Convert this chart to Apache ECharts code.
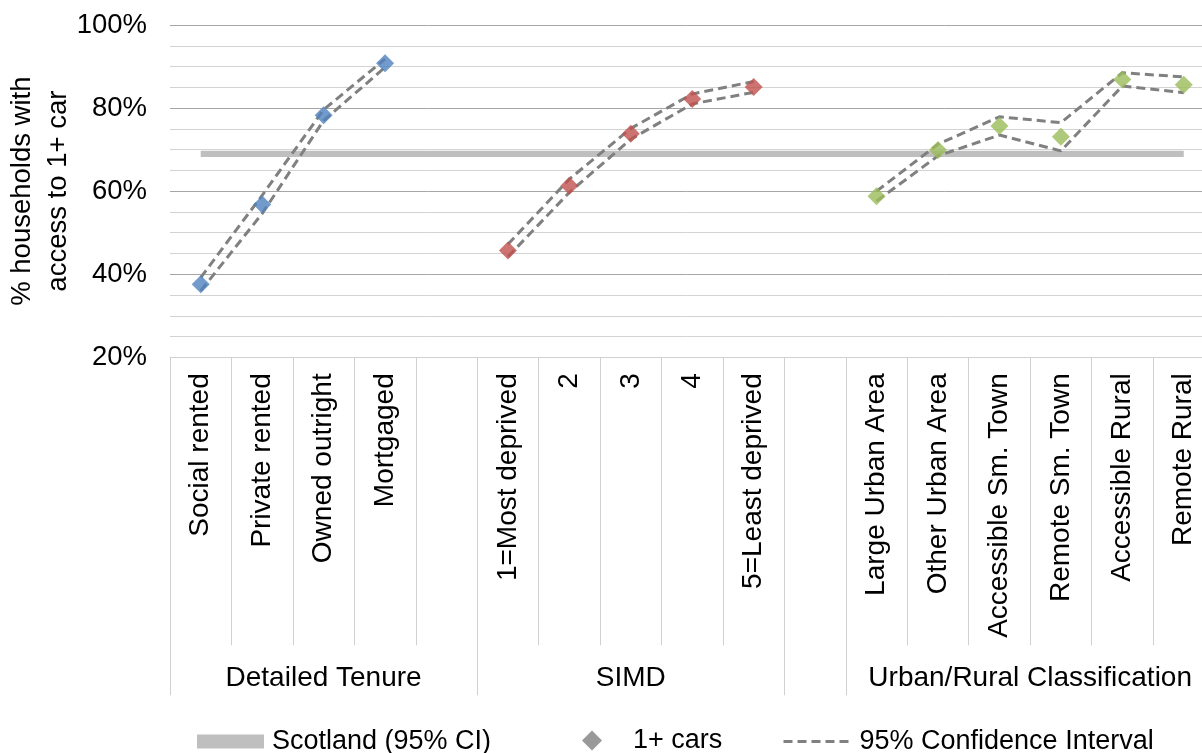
<!DOCTYPE html>
<html>
<head>
<meta charset="utf-8">
<title>Households with access to 1+ car</title>
<script src="https://cdn.jsdelivr.net/npm/echarts@6/dist/echarts.min.js"></script>
<style>
  html, body { margin: 0; padding: 0; background: #ffffff; }
  #chart { width: 1202px; height: 753px; }
</style>
</head>
<body>
<div id="chart"></div>
<script>
// ---- Categories by group ----
const tenureCats = ['Social rented', 'Private rented', 'Owned outright', 'Mortgaged'];
const simdCats = ['1=Most deprived', '2', '3', '4', '5=Least deprived'];
const urbanCats = ['Large Urban Area', 'Other Urban Area', 'Accessible Sm. Town', 'Remote Sm. Town', 'Accessible Rural', 'Remote Rural'];

// ---- % of households with access to 1+ car ----
const tenureCars = [37.6, 56.8, 78.3, 90.8];
const simdCars = [45.7, 61.3, 73.8, 82.2, 85.1];
const urbanCars = [58.8, 69.9, 75.7, 73.1, 86.9, 85.6];

// ---- 95% confidence interval bounds ----
const tenureUpper = [39.2, 59.0, 79.6, 91.8];
const tenureLower = [36.0, 54.6, 77.0, 89.8];
const simdUpper = [47.2, 62.9, 75.1, 83.4, 86.4];
const simdLower = [44.2, 59.7, 72.5, 81.0, 83.8];
const urbanUpper = [60.0, 71.3, 77.9, 76.5, 88.5, 87.5];
const urbanLower = [57.6, 68.5, 73.5, 69.7, 85.3, 83.7];

// ---- Scotland-wide 95% CI band ----
const scotlandLower = 68.2;
const scotlandUpper = 69.7;

// ---- Group headings under the category labels ----
const groupNames = ['Detailed Tenure', 'SIMD', '', 'Urban/Rural Classification'];
const groupSizes = [5, 5, 1, 6];

// ---- Y axis ----
const yMin = 20, yMax = 100, yStep = 5, yLabelStep = 20;

const groupColors = ['#4f81bd', '#c0504d', '#9bbb59'];
const FONT = "'Liberation Sans', Arial, sans-serif";

// Build the 17-slot category axis: groups separated by an empty slot
const categories = [...tenureCats, ' ', ...simdCats, '  ', ...urbanCats];
const gap = [null];
const carsAll = [...tenureCars, ...gap, ...simdCars, ...gap, ...urbanCars];
const upperAll = [...tenureUpper, ...gap, ...simdUpper, ...gap, ...urbanUpper];
const lowerAll = [...tenureLower, ...gap, ...simdLower, ...gap, ...urbanLower];
const colorAll = [
  ...tenureCats.map(() => groupColors[0]), null,
  ...simdCats.map(() => groupColors[1]), null,
  ...urbanCats.map(() => groupColors[2])
];

const carPoints = carsAll.map((v, i) =>
  v == null ? null : { value: v, itemStyle: { color: colorAll[i] } });

// Group boundaries and label centres on a 0..N value scale
const boundaries = [0];
groupSizes.forEach(s => boundaries.push(boundaries[boundaries.length - 1] + s));
const groupCentres = [];
const centreName = {};
groupSizes.forEach((s, i) => {
  if (groupNames[i]) {
    const c = boundaries[i] + s / 2;
    groupCentres.push(c);
    centreName[c] = groupNames[i];
  }
});

// Split line colours: darker at every labelled tick
const splitColors = [];
for (let v = yMin; v <= yMax; v += yStep) {
  splitColors.push(v === yMin ? '#d0d0d0' : (v % yLabelStep === 0 ? '#a6a6a6' : '#d3d3d3'));
}

const chart = echarts.init(document.getElementById('chart'), null, { renderer: 'canvas' });

const legendText = { fontFamily: FONT, fontSize: 27, color: '#000' };
const ciDash = [9, 5];

chart.setOption({
  animation: false,
  backgroundColor: '#ffffff',
  textStyle: { fontFamily: FONT },
  grid: {
    left: 170, top: 25, width: 1044.5, height: 332.3,
    containLabel: false, outerBoundsMode: 'none'
  },
  legend: [
    {
      data: [{ name: 'Scotland (95% CI)', icon: 'rect' }],
      left: 192, top: 723, itemWidth: 67, itemHeight: 14,
      selectedMode: false,
      textStyle: Object.assign({ padding: [0, 0, 0, 3] }, legendText)
    },
    {
      data: [{ name: '1+ cars', icon: 'diamond' }],
      left: 577, top: 722, itemWidth: 20, itemHeight: 20,
      selectedMode: false,
      textStyle: Object.assign({ padding: [0, 0, 0, 26] }, legendText)
    },
    {
      data: [{ name: '95% Confidence Interval' }],
      left: 777, top: 723, itemWidth: 70, itemHeight: 14,
      selectedMode: false,
      itemStyle: { color: 'rgba(0,0,0,0)', borderWidth: 0, opacity: 0 },
      lineStyle: { color: '#808080', width: 3, type: ciDash },
      textStyle: Object.assign({ padding: [0, 0, 0, 1] }, legendText)
    }
  ],
  xAxis: [
    {
      type: 'category',
      data: categories,
      boundaryGap: true,
      axisLine: { show: true, lineStyle: { color: '#d0d0d0', width: 1 } },
      axisTick: { show: true, interval: 0, length: 288, lineStyle: { color: '#d0d0d0', width: 1 } },
      axisLabel: {
        interval: 0, rotate: 90, margin: 16,
        fontFamily: FONT, fontSize: 28, color: '#000'
      },
      splitLine: { show: false }
    },
    {
      type: 'value',
      position: 'bottom',
      min: 0, max: boundaries[boundaries.length - 1],
      axisLine: { show: false },
      axisTick: {
        show: true, length: 338, customValues: boundaries,
        lineStyle: { color: '#d0d0d0', width: 1 }
      },
      axisLabel: {
        show: true, customValues: groupCentres, margin: 307,
        formatter: v => centreName[v] || '',
        fontFamily: FONT, fontSize: 28, color: '#000'
      },
      splitLine: { show: false }
    }
  ],
  yAxis: {
    type: 'value',
    min: yMin, max: yMax, interval: yStep,
    name: '% households with\naccess to 1+ car',
    nameLocation: 'middle',
    nameRotate: 90,
    nameGap: 94,
    nameMoveOverlap: false,
    nameTextStyle: { fontFamily: FONT, fontSize: 27.5, color: '#000', lineHeight: 36 },
    axisLine: { show: false },
    axisTick: { show: false },
    axisLabel: {
      margin: 23, fontFamily: FONT, fontSize: 27.5, color: '#000',
      formatter: v => (v % yLabelStep === 0 ? v + '%' : '')
    },
    splitLine: { show: true, lineStyle: { color: splitColors, width: 1 } }
  },
  series: [
    {
      name: 'scotland-base',
      type: 'line',
      stack: 'scotland',
      data: categories.map(() => scotlandLower),
      symbol: 'none',
      lineStyle: { width: 0, opacity: 0 },
      silent: true,
      z: 1
    },
    {
      name: 'Scotland (95% CI)',
      type: 'line',
      stack: 'scotland',
      data: categories.map(() => +(scotlandUpper - scotlandLower).toFixed(2)),
      symbol: 'none',
      color: '#bfbfbf',
      lineStyle: { width: 0 },
      areaStyle: { color: '#bfbfbf', opacity: 1 },
      silent: true,
      z: 1
    },
    {
      name: '95% Confidence Interval',
      type: 'line',
      data: upperAll,
      connectNulls: false,
      symbol: 'none',
      color: '#808080',
      lineStyle: { color: '#808080', width: 3, type: ciDash },
      z: 3
    },
    {
      name: '95% Confidence Interval',
      type: 'line',
      data: lowerAll,
      connectNulls: false,
      symbol: 'none',
      color: '#808080',
      lineStyle: { color: '#808080', width: 3, type: ciDash },
      z: 3
    },
    {
      name: '1+ cars',
      type: 'scatter',
      data: carPoints,
      symbol: 'diamond',
      symbolSize: 18,
      itemStyle: { color: '#808080' },
      z: 5
    }
  ]
});
</script>
</body>
</html>
